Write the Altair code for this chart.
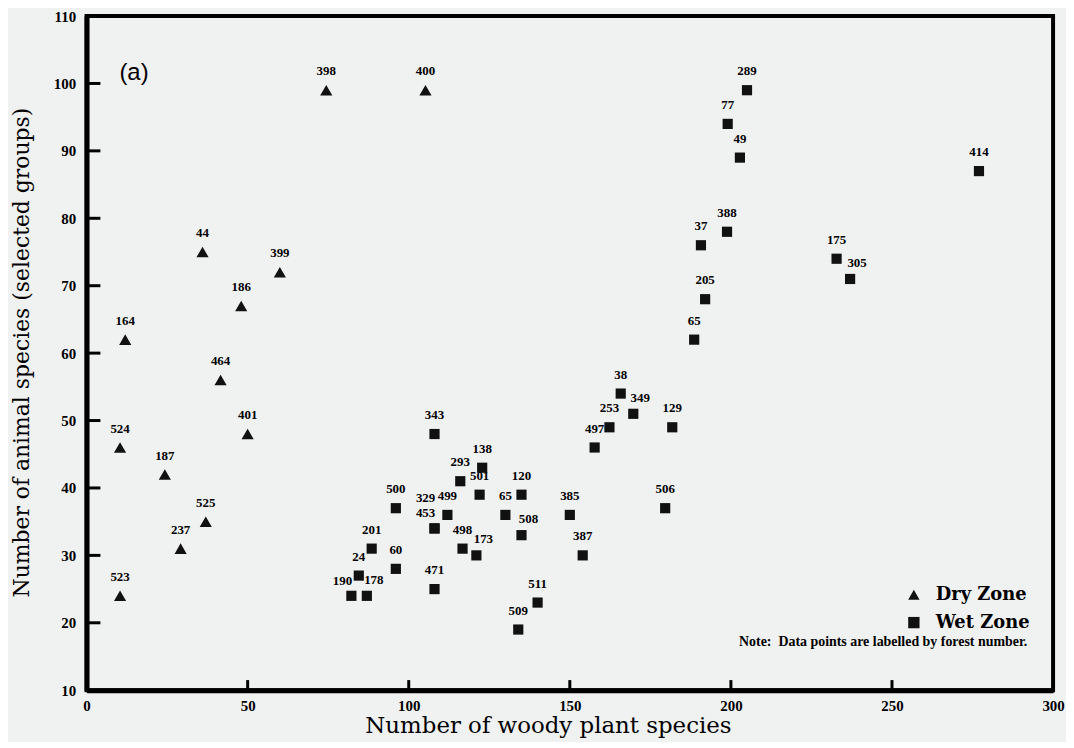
import altair as alt
import pandas as pd

# ---- data ----
zones = ["Dry Zone", "Wet Zone"]

dry_id = ["398", "400", "44", "399", "186", "164", "464", "524", "401", "187", "525", "237", "523"]
dry_x = [74.4, 105.2, 36, 60, 48, 12, 41.6, 10.4, 50, 24.3, 37, 29.2, 10.4]
dry_y = [99, 99, 75, 72, 67, 62, 56, 46, 48, 42, 35, 31, 24]

wet_id = ["190", "178", "24", "201", "60", "500", "343", "453", "329", "499",
          "471", "293", "498", "138", "501", "173", "120", "65", "508", "509",
          "511", "385", "387", "497", "253", "38", "349", "129", "506", "65",
          "205", "37", "388", "77", "49", "289", "175", "305", "414"]
wet_x = [82.2, 87, 84.5, 88.5, 96, 96, 108, 108, 108, 112,
         108, 116, 116.7, 122.8, 122, 121, 135, 130, 135, 134,
         140, 150, 154, 157.7, 162.3, 165.8, 169.7, 181.8, 179.6, 188.6,
         192, 190.7, 198.8, 199, 202.8, 205, 232.8, 237, 277]
wet_y = [24, 24, 27, 31, 28, 37, 48, 34, 34, 36,
         25, 41, 31, 43, 39, 30, 39, 36, 33, 19,
         23, 36, 30, 46, 49, 54, 51, 49, 37, 62,
         68, 76, 78, 94, 89, 99, 74, 71, 87]

x_ticks = [0, 50, 100, 150, 200, 250, 300]
y_ticks = [10, 20, 30, 40, 50, 60, 70, 80, 90, 100, 110]

panel_tag = "(a)"
note_text = "Note:\u00a0\u00a0Data points are labelled by forest number."
x_title = "Number of woody plant species"
y_title = "Number of animal species (selected groups)"

# label placement styles (which labels sit left / right / higher)
label_left = {"190", "453"}
label_right = {"178", "349", "305", "173", "508"}
label_high = {"329"}

df = pd.concat([
    pd.DataFrame({"id": dry_id, "x": dry_x, "y": dry_y, "zone": zones[0]}),
    pd.DataFrame({"id": wet_id, "x": wet_x, "y": wet_y, "zone": zones[1]}),
], ignore_index=True)


def style(i):
    if i in label_high:
        return "high"
    if i in label_left:
        return "left"
    if i in label_right:
        return "right"
    return "mid"


df["lab"] = df["id"].map(style)

xs = alt.Scale(domain=[0, 300], nice=False, zero=False)
ys = alt.Scale(domain=[10, 110], nice=False, zero=False)

x_axis = alt.Axis(values=x_ticks, format="d", ticks=False, grid=False,
                  domainColor="black", domainWidth=5,
                  labelFont="Liberation Serif", labelFontWeight="bold", labelFontSize=15,
                  labelColor="black", labelPadding=8, labelFlush=False,
                  title=x_title, titleFont="DejaVu Serif", titleFontSize=23,
                  titleFontWeight="normal", titleColor="black",
                  titleX=464, titleY=36, titleBaseline="middle")
y_axis = alt.Axis(values=y_ticks, format="d", ticks=False, grid=False,
                  domainColor="black", domainWidth=5,
                  labelFont="Liberation Serif", labelFontWeight="bold", labelFontSize=15,
                  labelColor="black", labelPadding=11, labelFlush=False,
                  title=y_title, titleFont="DejaVu Serif", titleFontSize=22,
                  titleFontWeight="normal", titleColor="black",
                  titleX=-65, titleY=338, titleBaseline="middle", titleAngle=-90)

base = alt.Chart(df)
shape_scale = alt.Scale(domain=zones, range=["triangle-up", "square"])
legend = alt.Legend(title=None, orient="none", legendX=823, legendY=573,
                    labelFont="DejaVu Serif", labelFontSize=18,
                    labelFontWeight="bold", labelColor="black",
                    symbolFillColor="black", symbolStrokeColor="black",
                    symbolStrokeWidth=0, symbolSize=130,
                    labelOffset=13, rowPadding=10, padding=0)


def pts(zone, size):
    return base.transform_filter(alt.datum.zone == zone).mark_point(
        filled=True, opacity=1, color="#111111", strokeWidth=0, size=size
    ).encode(
        x=alt.X("x:Q", scale=xs, axis=x_axis),
        y=alt.Y("y:Q", scale=ys, axis=y_axis),
        shape=alt.Shape("zone:N", scale=shape_scale, legend=legend),
    )


dry_pts = pts(zones[0], 150)
wet_pts = pts(zones[1], 105)


def labels(kind, dx, dy):
    return base.transform_filter(alt.datum.lab == kind).mark_text(
        font="Liberation Serif", fontWeight="bold", fontSize=13, color="black",
        dx=dx, dy=dy, align="center", baseline="middle"
    ).encode(x=alt.X("x:Q", scale=xs), y=alt.Y("y:Q", scale=ys), text="id:N")


lab_mid = labels("mid", 0, -19)
lab_left = labels("left", -9, -15)
lab_right = labels("right", 7, -16)
lab_high = labels("high", -9, -31)

ytick_df = pd.DataFrame({"v": y_ticks[1:-1]})
xtick_df = pd.DataFrame({"v": x_ticks[1:-1]})
yticks = alt.Chart(ytick_df).mark_rule(color="black", strokeWidth=3).encode(
    y=alt.Y("v:Q", scale=ys), x=alt.datum(0), x2=alt.datum(4.3))
xticks = alt.Chart(xtick_df).mark_rule(color="black", strokeWidth=3).encode(
    x=alt.X("v:Q", scale=xs), y=alt.datum(10), y2=alt.datum(11.5))

tag = alt.Chart(pd.DataFrame({"t": [panel_tag]})).mark_text(
    font="Liberation Sans", fontSize=24, color="black", align="left", baseline="middle"
).encode(x=alt.datum(10.2), y=alt.datum(101.6), text="t:N")

note = alt.Chart(pd.DataFrame({"t": [note_text]})).mark_text(
    font="Liberation Serif", fontWeight="bold", fontSize=14, color="black",
    align="right", baseline="middle"
).encode(x=alt.datum(292), y=alt.datum(17.1), text="t:N")

chart = alt.layer(yticks, xticks, dry_pts, wet_pts, lab_mid, lab_left, lab_right, lab_high,
                  tag, note).properties(
    width=972, height=678,
    padding={"left": 79, "top": 6, "right": 13, "bottom": 50},
    autosize=alt.AutoSizeParams(type="none"),
    background="#f0f1f1",
).configure_view(stroke="black", strokeWidth=4)

chart.save("out.html", embed_options={"renderer": "svg", "actions": False})
